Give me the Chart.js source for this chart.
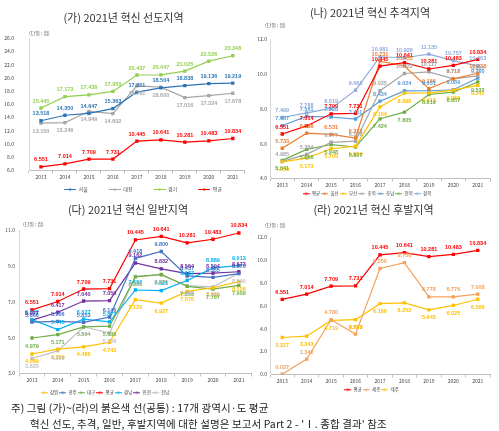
<!DOCTYPE html>
<html>
<head>
<meta charset="utf-8">
<script src="https://cdn.jsdelivr.net/npm/chart.js@4.4.0/dist/chart.umd.min.js"></script>
<style>
  body { margin: 0; background: #fff; width: 499px; height: 431px; position: relative; overflow: hidden; }
  canvas { position: absolute; }
  .note { position: absolute; font-family: "Noto Sans CJK KR", sans-serif; font-size: 10.5px; letter-spacing: 0.1px; color: #222; white-space: nowrap; }
</style>
</head>
<body>
<canvas id="c1" style="left:0;top:0" width="250" height="202"></canvas>
<canvas id="c2" style="left:250px;top:0" width="249" height="206"></canvas>
<canvas id="c3" style="left:0;top:197px" width="257" height="208"></canvas>
<canvas id="c4" style="left:257px;top:197px" width="242" height="205"></canvas>
<div class="note" style="left:11px;top:400px">주) 그림 (가)~(라)의 붉은색 선(공통) : 17개 광역시·도 평균</div>
<div class="note" style="left:30px;top:416px">혁신 선도, 추격, 일반, 후발지역에 대한 설명은 보고서 Part 2 - 'Ⅰ. 종합 결과' 참조</div>
<script>
const years = ['2013', '2014', '2015', '2016', '2017', '2018', '2019', '2020', '2021'];

// 17개 광역시·도 평균 (all four panels)
const avg = [6.551, 7.014, 7.709, 7.731, 10.445, 10.641, 10.281, 10.483, 10.834];

// (가) 선도지역
const seoul = [13.518, 14.350, 14.647, 15.363, 17.851, 18.504, 18.838, 19.136, 19.219];
const daejeon = [13.150, 13.246, 14.949, 14.602, 18.791, 18.600, 17.016, 17.324, 17.678];
const gyeonggi = [15.445, 17.173, 17.438, 17.953, 20.437, 20.447, 21.025, 22.526, 23.348];

// (나) 추격지역
const ulsan = [5.733, 6.598, 6.531, 6.322, 10.731, 10.455, 9.156, 9.717, 10.038];
const busan = [4.950, 5.173, 5.705, 5.859, 8.104, 8.898, 8.913, 9.066, 9.341];
const chungbuk = [4.985, 5.384, 6.077, 6.138, 9.035, 10.022, 10.117, 9.718, 9.885];
const chungnam = [7.037, 7.561, 7.528, 7.411, 8.434, 9.024, 9.031, 9.089, 9.760];
const jeonbuk = [5.041, 5.668, 5.948, 5.807, 7.424, 7.805, 8.819, 8.957, 9.533];
const gyeongbuk = [7.499, 7.768, 8.019, 9.068, 10.981, 10.926, 11.135, 10.757, 10.463];

// (다) 일반지역
const gangwon = [4.089, 4.359, 4.480, 4.742, 7.120, 6.927, 7.576, 7.780, 8.126];
const gwangju = [5.866, 5.906, 5.853, 6.146, 9.418, 9.800, 8.437, 8.355, 8.570];
const daegu = [4.979, 5.171, 5.594, 5.639, 8.386, 8.521, 7.853, 7.707, 7.909];
const gyeongnam = [6.002, 5.445, 6.027, 5.877, 7.656, 7.621, 8.187, 8.889, 9.013];
const incheon = [5.977, 6.417, 7.040, 7.059, 9.162, 8.832, 8.564, 8.594, 8.673];
const jeonnam = [3.835, 4.260, 5.604, 5.258, 8.418, 8.500, 7.898, 7.830, 8.590];

// (라) 후발지역
const sejong = [0.027, 1.342, 4.780, 3.523, 9.250, 9.758, 6.778, 6.776, 7.008];
const jeju = [3.227, 3.343, 4.719, 4.786, 6.180, 6.252, 5.645, 6.025, 6.566];

// y axis ranges [min, max, step]
const yTicks1 = [6, 26, 2];
const yTicks2 = [4, 12, 2];
const yTicks3 = [3, 11, 2];
const yTicks4 = [0, 12, 2];

const FONT = '"Noto Sans CJK KR", "Liberation Sans", sans-serif';

// legend marker: blank space on the left, then a short line with a square
function legendMarker(color, boxW, lineW) {
    const c = document.createElement('canvas');
    c.width = boxW; c.height = 5;
    const g = c.getContext('2d');
    const x0 = boxW - lineW;
    g.strokeStyle = color; g.lineWidth = 1;
    g.beginPath(); g.moveTo(x0, 2.5); g.lineTo(boxW, 2.5); g.stroke();
    g.fillStyle = color;
    g.fillRect(x0 + lineW / 2 - 1, 1.5, 2, 2);
    return c;
}

const valueLabels = {
    id: 'valueLabels',
    afterLayout(chart) {
        const s = chart.options.legendShift || 0;
        chart.legend.left += s;
        chart.legend.right += s;
    },
    afterDatasetsDraw(chart) {
        const ctx = chart.ctx;
        ctx.save();
        ctx.font = 'bold 5.5px "Liberation Sans Narrow", "Liberation Sans", Arial, sans-serif';
        ctx.textAlign = 'center';
        ctx.textBaseline = 'middle';
        chart.data.datasets.forEach((ds, i) => {
            const meta = chart.getDatasetMeta(i);
            ctx.fillStyle = ds.borderColor;
            meta.data.forEach((pt, j) => {
                const off = ds.labelPos === 'below' ? 8 : -7;
                ctx.fillText(ds.data[j].toFixed(3), pt.x, pt.y + off);
            });
        });
        const u = chart.options.unitPos;
        ctx.fillStyle = '#595959';
        ctx.font = '5px ' + FONT;
        ctx.textAlign = 'left';
        ctx.fillText('(단위 : 점)', chart.chartArea.left + u[0], chart.chartArea.top + u[1]);
        ctx.restore();
    }
};

function series(label, data, color, labelPos) {
    return {
        label: label,
        data: data,
        borderColor: color,
        backgroundColor: color,
        borderWidth: 1.2,
        pointRadius: 1.5,
        pointStyle: 'rect',
        labelPos: labelPos,
        tension: 0
    };
}

function makeChart(id, title, datasets, ticks, cfg) {
    const ctx = document.getElementById(id).getContext('2d');
    return new Chart(ctx, {
        type: 'line',
        data: { labels: years, datasets: datasets },
        options: {
            responsive: false,
            animation: false,
            unitPos: cfg.unit,
            legendShift: cfg.legendShift,
            layout: { padding: { top: 0, left: 0, right: cfg.right, bottom: 0 } },
            scales: {
                x: {
                    offset: true,
                    afterFit: s => { s.height = cfg.xH; },
                    grid: { display: true, offset: true, drawOnChartArea: false, tickLength: 3, color: '#bfbfbf' },
                    border: { color: '#bfbfbf' },
                    ticks: { font: { size: 5, family: FONT }, color: '#404040', padding: 1 }
                },
                y: {
                    min: ticks[0],
                    max: ticks[1],
                    afterFit: s => { s.width = cfg.yW; },
                    grid: { display: false, drawTicks: false },
                    border: { display: true, color: '#d9d9d9' },
                    ticks: {
                        stepSize: ticks[2],
                        padding: cfg.yPad,
                        font: { size: 5, family: FONT },
                        color: '#404040',
                        callback: v => v.toFixed(1)
                    }
                }
            },
            plugins: {
                title: {
                    display: true,
                    text: title,
                    color: '#333',
                    font: { size: 11, family: FONT, weight: 'normal' },
                    padding: { top: cfg.titleTop, bottom: cfg.titleBottom }
                },
                legend: {
                    position: 'bottom',
                    labels: {
                        usePointStyle: true,
                        pointStyleWidth: cfg.boxW,
                        boxHeight: 5,
                        padding: cfg.legPad,
                        color: '#404040',
                        font: { size: cfg.legFont, family: FONT },
                        generateLabels: chart => chart.data.datasets.map((ds, i) => ({
                            text: ds.label,
                            pointStyle: legendMarker(ds.borderColor, cfg.boxW, cfg.lineW),
                            fontColor: '#404040',
                            strokeStyle: ds.borderColor,
                            fillStyle: ds.borderColor,
                            lineWidth: 0,
                            datasetIndex: i
                        }))
                    }
                },
                tooltip: { enabled: false }
            }
        },
        plugins: [valueLabels]
    });
}

makeChart('c1', '(가) 2021년 혁신 선도지역', [
    series('서울', seoul, '#2e75b6', 'above'),
    series('대전', daejeon, '#a6a6a6', 'below'),
    series('경기', gyeonggi, '#92d050', 'above'),
    series('평균', avg, '#ff0000', 'above')
], yTicks1, { yW: 29, yPad: 15, right: 3, xH: 14.5, titleTop: 11, titleBottom: 14,
             boxW: 31, lineW: 12, legPad: 2, legFont: 5, legendShift: 10, unit: [0, -5] });

makeChart('c2', '(나) 2021년 혁신 추격지역', [
    series('평균', avg, '#ff0000', 'above'),
    series('울산', ulsan, '#ed7d31', 'above'),
    series('부산', busan, '#ffc000', 'below'),
    series('충북', chungbuk, '#a5a5a5', 'above'),
    series('충남', chungnam, '#5b9bd5', 'above'),
    series('전북', jeonbuk, '#70ad47', 'below'),
    series('경북', gyeongbuk, '#8eaadb', 'above')
], yTicks2, { yW: 20, yPad: 3, right: 9, xH: 12, titleTop: 6.4, titleBottom: 19.4,
             boxW: 7, lineW: 7, legPad: 1, legFont: 4.5, legendShift: -3, unit: [-5, -14] });

makeChart('c3', '(다) 2021년 혁신 일반지역', [
    series('강원', gangwon, '#ffc000', 'below'),
    series('광주', gwangju, '#4472c4', 'above'),
    series('대구', daegu, '#70ad47', 'below'),
    series('평균', avg, '#ff0000', 'above'),
    series('경남', gyeongnam, '#00b0f0', 'above'),
    series('인천', incheon, '#7030a0', 'above'),
    series('전남', jeonnam, '#bfbfbf', 'below')
], yTicks3, { yW: 19, yPad: 4, right: 1, xH: 16, titleTop: 6.4, titleBottom: 13.4,
             boxW: 7, lineW: 7, legPad: 1, legFont: 4.5, legendShift: -23, unit: [4, -6] });

makeChart('c4', '(라) 2021년 혁신 후발지역', [
    series('평균', avg, '#ff0000', 'above'),
    series('세종', sejong, '#f4a15d', 'above'),
    series('제주', jeju, '#ffc000', 'below')
], yTicks4, { yW: 13, yPad: 3, right: 9, xH: 12, titleTop: 6.4, titleBottom: 20.4,
              boxW: 7, lineW: 7, legPad: 1, legFont: 4.5, legendShift: -2, unit: [-5, -12] });
</script>
</body>
</html>
